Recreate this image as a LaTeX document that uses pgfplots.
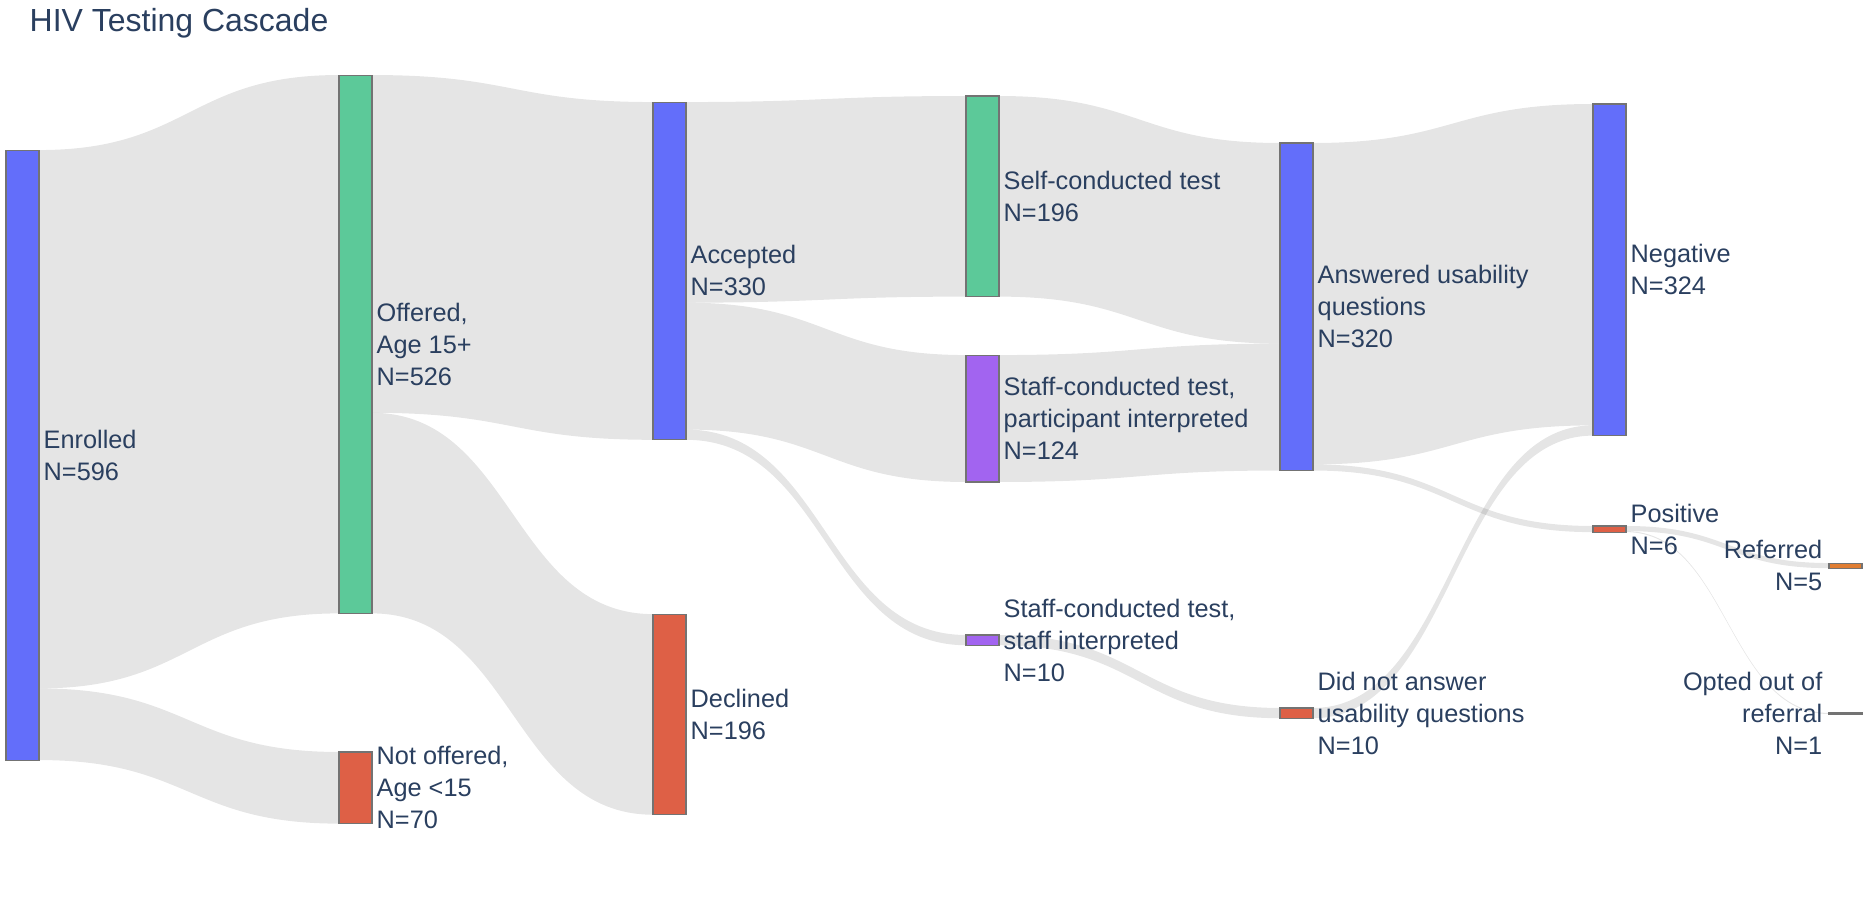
\documentclass[border=0pt]{standalone}
\usepackage{pgfplots}
\pgfplotsset{compat=1.18}
\usepackage{fontspec}
\setmainfont{Liberation Sans}
\definecolor{txt}{HTML}{2A3F5F}
\definecolor{blueN}{RGB}{99,110,250}
\definecolor{greenN}{RGB}{92,201,153}
\definecolor{redN}{RGB}{222,96,70}
\definecolor{purpleN}{RGB}{162,100,240}
\definecolor{orangeN}{RGB}{224,125,50}
\definecolor{grayN}{RGB}{150,150,150}
% link: source right x, target left x, source top, target top, value
\newcommand{\link}[5]{%
  \pgfplotsextra{%
    \pgfmathsetmacro\lxm{(#1+#2)/2}%
    \pgfmathsetmacro\lsb{#3+#5}%
    \pgfmathsetmacro\ltb{#4+#5}%
    \fill[black, fill opacity=0.1]
      (axis cs:#1,#3) .. controls (axis cs:\lxm,#3) and (axis cs:\lxm,#4) .. (axis cs:#2,#4)
      -- (axis cs:#2,\ltb) .. controls (axis cs:\lxm,\ltb) and (axis cs:\lxm,\lsb) .. (axis cs:#1,\lsb) -- cycle;
  }}
% node: left x, top, value, colour
\newcommand{\snode}[4]{%
  \pgfmathsetmacro\nr{#1+33}%
  \pgfmathsetmacro\nb{#2+#3}%
  \addplot[fill=#4, draw=black!55, line width=0.3pt] coordinates {(#1,#2) (\nr,#2) (\nr,\nb) (#1,\nb)} -- cycle;
}
\newcommand{\labr}[3]{\node[anchor=west, align=left, inner sep=0pt, text=txt, font=\fontsize{7.2}{9.1}\selectfont] at (axis cs:#1,#2) {#3};}
\newcommand{\labl}[3]{\node[anchor=east, align=right, inner sep=0pt, text=txt, font=\fontsize{7.2}{9.1}\selectfont] at (axis cs:#1,#2) {#3};}
\begin{document}
\begin{tikzpicture}
\begin{axis}[
  width=18.7cm, height=8.98cm, scale only axis,
  xmin=0, xmax=1870, ymin=0, ymax=877.4, y dir=reverse,
  axis lines=none, clip=false,
]
% links
\link{39}{339}{146.6}{73.3}{526}
\link{39}{339}{672.6}{734.7}{70}
\link{372}{653}{73.3}{99.7}{330}
\link{372}{653}{403.3}{600}{196}
\link{686}{966}{99.7}{93.8}{196}
\link{686}{966}{295.7}{346.9}{124}
\link{686}{966}{419.7}{620.4}{10}
\link{999}{1280}{93.8}{139.7}{196}
\link{999}{1280}{346.9}{335.7}{124}
\link{999}{1280}{620.4}{691.7}{10}
\link{1313}{1593}{139.7}{101.6}{314}
\link{1313}{1593}{453.7}{513.9}{6}
\link{1313}{1593}{691.7}{415.6}{10}
\link{1626}{1829}{513.9}{550.1}{5}
\link{1626}{1829}{518.9}{696.6}{1}
% nodes
\snode{6}{146.6}{596}{blueN}
\snode{339}{73.3}{526}{greenN}
\snode{339}{734.7}{70}{redN}
\snode{653}{99.7}{330}{blueN}
\snode{653}{600}{196}{redN}
\snode{966}{93.8}{196}{greenN}
\snode{966}{346.9}{124}{purpleN}
\snode{966}{620.4}{10}{purpleN}
\snode{1280}{139.7}{320}{blueN}
\snode{1280}{691.7}{10}{redN}
\snode{1593}{101.6}{324}{blueN}
\snode{1593}{513.9}{6}{redN}
\snode{1829}{550.1}{5}{orangeN}
\snode{1829}{696.6}{1}{grayN}
% labels
\labr{43}{444.6}{Enrolled\\N=596}
\labr{376}{336.3}{Offered,\\Age 15+\\N=526}
\labr{376}{769.7}{Not offered,\\Age <15\\N=70}
\labr{690}{264.7}{Accepted\\N=330}
\labr{690}{698}{Declined\\N=196}
\labr{1003}{191.8}{Self-conducted test\\N=196}
\labr{1003}{408.9}{Staff-conducted test,\\participant interpreted\\N=124}
\labr{1003}{625.4}{Staff-conducted test,\\staff interpreted\\N=10}
\labr{1317}{299.7}{Answered usability\\questions\\N=320}
\labr{1317}{696.7}{Did not answer\\usability questions\\N=10}
\labr{1630}{263.6}{Negative\\N=324}
\labr{1630}{516.9}{Positive\\N=6}
\labl{1823}{552.6}{Referred\\N=5}
\labl{1823}{697.1}{Opted out of\\referral\\N=1}
\node[anchor=base west, inner sep=0pt, text=txt, font=\fontsize{9.1}{11}\selectfont] at (axis cs:29,30.3) {HIV Testing Cascade};
\end{axis}
\path (current axis.south west) rectangle (current axis.north east);
\end{tikzpicture}
\end{document}
